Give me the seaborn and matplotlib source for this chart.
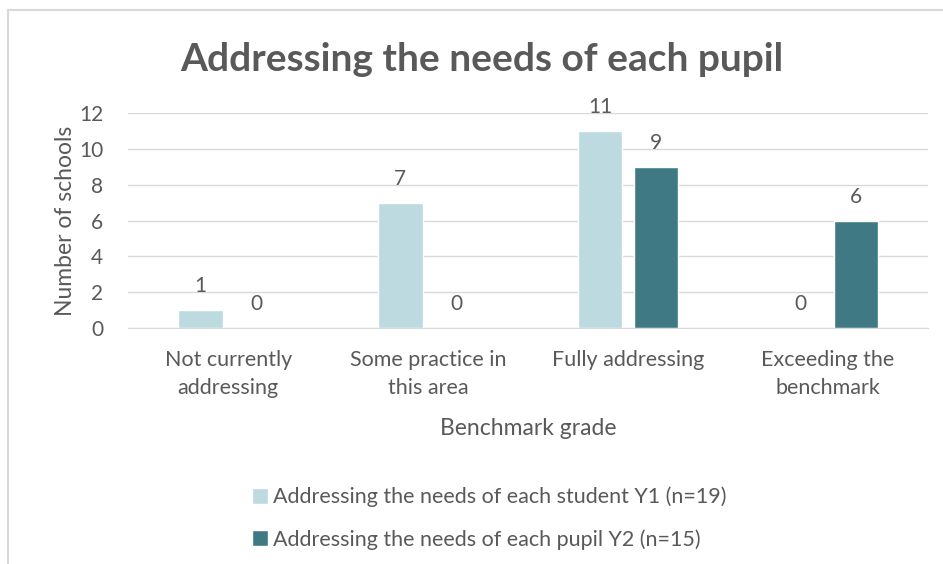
import pandas as pd
import seaborn as sns
import matplotlib.pyplot as plt
from matplotlib.patches import Rectangle

# chart values
categories = ["Not currently\naddressing", "Some practice in\nthis area", "Fully addressing", "Exceeding the\nbenchmark"]
series_names = ["Addressing the needs of each student Y1 (n=19)", "Addressing the needs of each pupil Y2 (n=15)"]
y1_values = [1, 7, 11, 0]
y2_values = [0, 0, 9, 6]
y_ticks = [0, 2, 4, 6, 8, 10, 12]

colors = ["#BDDAE0", "#3F7A84"]
text_gray = "#595959"

df = pd.DataFrame({
    "grade": categories * 2,
    "series": [series_names[0]] * 4 + [series_names[1]] * 4,
    "count": y1_values + y2_values,
})

sns.set_style("white")
plt.rcParams["font.family"] = ["Lato", "DejaVu Sans"]

fig = plt.figure(figsize=(9.43, 5.64), dpi=100)
ax = fig.add_axes([0.136, 0.418, 0.848, 0.382])

sns.barplot(data=df, x="grade", y="count", hue="series", order=categories,
            hue_order=series_names, palette=colors, width=0.56, gap=0.2,
            saturation=1, ax=ax, legend=True)

for cont in ax.containers:
    ax.bar_label(cont, labels=[f"{v:g}" for v in cont.datavalues], padding=10,
                 fontsize=15, color=text_gray)

ax.set_ylim(0, 12)
ax.set_xlim(-0.5, 3.5)
ax.set_yticks(y_ticks)
ax.yaxis.grid(True, color="#D9D9D9", linewidth=1)
ax.set_axisbelow(True)
for s in ["top", "right", "left"]:
    ax.spines[s].set_visible(False)
ax.spines["bottom"].set_color("#D9D9D9")
ax.tick_params(axis="x", length=0, labelsize=15.5, labelcolor=text_gray, pad=16)
ax.tick_params(axis="y", length=0, labelsize=15, labelcolor=text_gray, pad=18)
for lbl in ax.get_xticklabels():
    lbl.set_linespacing(1.5)

ax.set_xlabel("Benchmark grade", fontsize=16.5, color=text_gray, labelpad=14)
ax.set_ylabel("Number of schools", fontsize=16.5, color=text_gray, labelpad=2)

fig.text(0.511, 0.895, "Addressing the needs of each pupil", ha="center", va="center",
         fontsize=28, fontweight="bold", color=text_gray)

handles, labels = ax.get_legend_handles_labels()
ax.get_legend().remove()
fig.legend(handles, labels, loc="upper left", bbox_to_anchor=(0.258, 0.152), ncol=1,
           frameon=False, fontsize=15.5, labelcolor=text_gray, handlelength=0.75,
           handleheight=0.75, handletextpad=0.25, labelspacing=1.0, borderaxespad=0)

fig.patches.append(Rectangle((8 / 943, -0.01), 1.0, 1 - 10 / 564 + 0.01,
                             transform=fig.transFigure, fill=False,
                             edgecolor="#D9D9D9", linewidth=1.5))

fig.savefig("out.png", dpi=100)
